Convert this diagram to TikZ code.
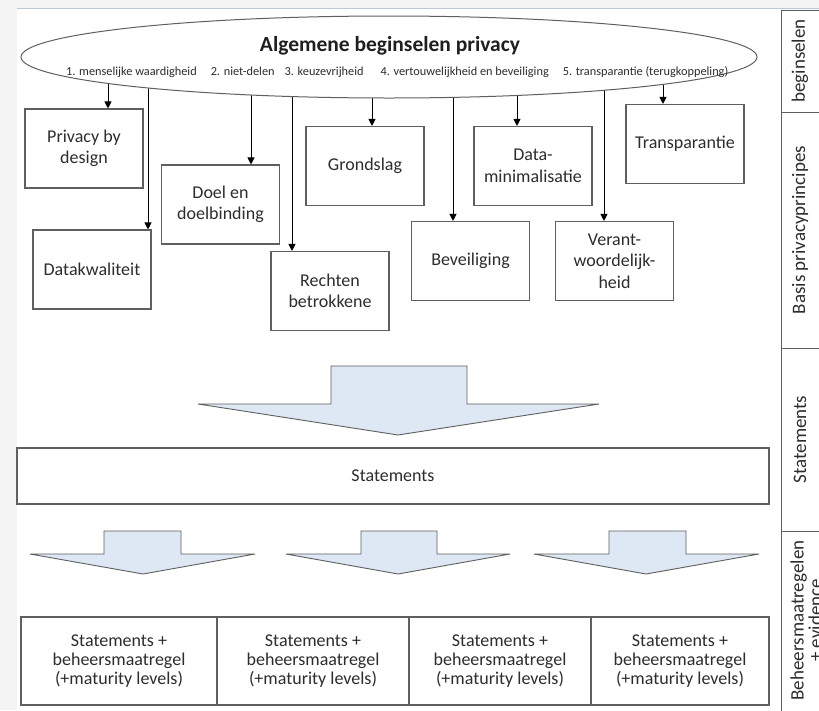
\documentclass[tikz,border=0pt]{standalone}
\usepackage{fontspec}
\setmainfont{Carlito}
\usetikzlibrary{shapes.geometric,arrows.meta,calc,backgrounds}
\definecolor{boxline}{RGB}{95,95,95}
\definecolor{txt}{RGB}{45,45,45}
\definecolor{arrowfill}{RGB}{222,231,244}
\definecolor{pagegray}{RGB}{243,243,243}
\definecolor{topline}{RGB}{188,200,218}
\begin{document}
\begin{tikzpicture}[x=1pt,y=-1pt,
  pbox/.style={draw=boxline, line width=1.1pt, align=center, text=txt, inner sep=0pt,
    font=\fontsize{18}{21.5}\selectfont, minimum width=118pt, minimum height=79pt},
  sbox/.style={draw=boxline, line width=1.1pt, align=center, text=txt, inner sep=0pt,
    font=\fontsize{18}{19}\selectfont, minimum height=88pt},
  conn/.style={line width=0.9pt, -{Triangle[length=7pt,width=7pt]}},
  block/.style={draw=boxline, line width=0.9pt, fill=arrowfill, line join=miter},
  side/.style={rotate=90, text=txt, font=\fontsize{19}{18}\selectfont, align=center, inner sep=0pt},
  sep/.style={draw=boxline, line width=1pt}
]
\useasboundingbox (0,0) rectangle (819,710);

% ellipse and its texts
\node[draw=boxline, line width=1pt, fill=white, ellipse, minimum width=736pt, minimum height=82pt, inner sep=0pt] (ell) at (389,57) {};
\node[font=\bfseries\fontsize{21.5}{21.5}\selectfont, text=black!88] (title) at (390,46) {Algemene beginselen privacy};
\node[anchor=west, font=\fontsize{12.3}{12.5}\selectfont, text=txt, inner sep=0pt] (sub) at (66,72)
  {1. menselijke waardigheid\hspace{14pt}2. niet-delen\hspace{10pt}3. keuzevrijheid\hspace{17pt}4. vertouwelijkheid en beveiliging\hspace{14pt}5. transparantie (terugkoppeling)};

% principle boxes
\node[pbox] (pbd)   at (84,148.5)  {Privacy by\\design};
\node[pbox] (dk)    at (92,269.5)  {Datakwaliteit};
\node[pbox] (doel)  at (220.5,204.5) {Doel en\\doelbinding};
\node[pbox] (recht) at (330,291)   {Rechten\\betrokkene};
\node[pbox] (grond) at (365,166)   {Grondslag};
\node[pbox] (bev)   at (470.5,261) {Beveiliging};
\node[pbox] (dmin)  at (533,166)   {Data-\\minimalisatie};
\node[pbox] (ver)   at (614.5,261) {Verant-\\woordelijk-\\heid};
\node[pbox] (trans) at (685,144)   {Transparantie};

% statements
\node[draw=boxline, line width=1.1pt, text=txt, inner sep=0pt, font=\fontsize{18}{21}\selectfont,
  minimum width=752pt, minimum height=56pt] (stm) at (393,476) {Statements};

\node[sbox, minimum width=196pt] (s1) at (119,661) {Statements +\\beheersmaatregel\\(+maturity levels)};
\node[sbox, minimum width=192pt] (s2) at (313,661) {Statements +\\beheersmaatregel\\(+maturity levels)};
\node[sbox, minimum width=182pt] (s3) at (500,661) {Statements +\\beheersmaatregel\\(+maturity levels)};
\node[sbox, minimum width=178pt] (s4) at (680,661) {Statements +\\beheersmaatregel\\(+maturity levels)};

% block arrows
\draw[block] (331,366) -- (467,366) -- (467,404) -- (599,404) -- (398,435) -- (198,404) -- (331,404) -- cycle;
\draw[block] (104,531) -- (181,531) -- (181,554) -- (255,554) -- (143,574) -- (30,554) -- (104,554) -- cycle;
\draw[block] (361,531) -- (437,531) -- (437,554) -- (510,554) -- (398,574) -- (286,554) -- (361,554) -- cycle;
\draw[block] (609,531) -- (686,531) -- (686,554) -- (759,554) -- (646,574) -- (534,554) -- (609,554) -- cycle;

% right column
\draw[sep] (781,10) -- (781,712);
\draw[sep] (781,10) -- (820,10);
\draw[sep] (781,112) -- (820,112);
\draw[sep] (781,348) -- (820,348);
\draw[sep] (781,531) -- (820,531);
\node[side] (l1) at (800,61) {beginselen};
\node[side] (l2) at (800,230) {Basis privacyprincipes};
\node[side] (l3) at (800,439.5) {Statements};
\node[side] (l4) at (806,620.5) {Beheersmaatregelen\\+ evidence};

\begin{scope}[on background layer]
  \fill[pagegray] (0,0) rectangle (819,710);
  \fill[white] (17,8) rectangle (819,710);
  \draw[topline, line width=1pt] (17,8) -- (819,8);
  \draw[conn] ($(pbd.north |- ell.center)+(24,0)$)    -- ($(pbd.north)+(24,0)$);
  \draw[conn] ($(dk.north |- ell.center)+(56,0)$)     -- ($(dk.north)+(56,0)$);
  \draw[conn] ($(doel.north |- ell.center)+(30.5,0)$) -- ($(doel.north)+(30.5,0)$);
  \draw[conn] ($(recht.north |- ell.center)+(-38,0)$) -- ($(recht.north)+(-38,0)$);
  \draw[conn] ($(grond.north |- ell.center)+(7,0)$)   -- ($(grond.north)+(7,0)$);
  \draw[conn] ($(bev.north |- ell.center)+(-17.5,0)$) -- ($(bev.north)+(-17.5,0)$);
  \draw[conn] ($(dmin.north |- ell.center)+(-16,0)$)  -- ($(dmin.north)+(-16,0)$);
  \draw[conn] ($(ver.north |- ell.center)+(-10.5,0)$) -- ($(ver.north)+(-10.5,0)$);
  \draw[conn] ($(trans.north |- ell.center)+(-22,0)$) -- ($(trans.north)+(-22,0)$);
\end{scope}
\end{tikzpicture}
\end{document}
